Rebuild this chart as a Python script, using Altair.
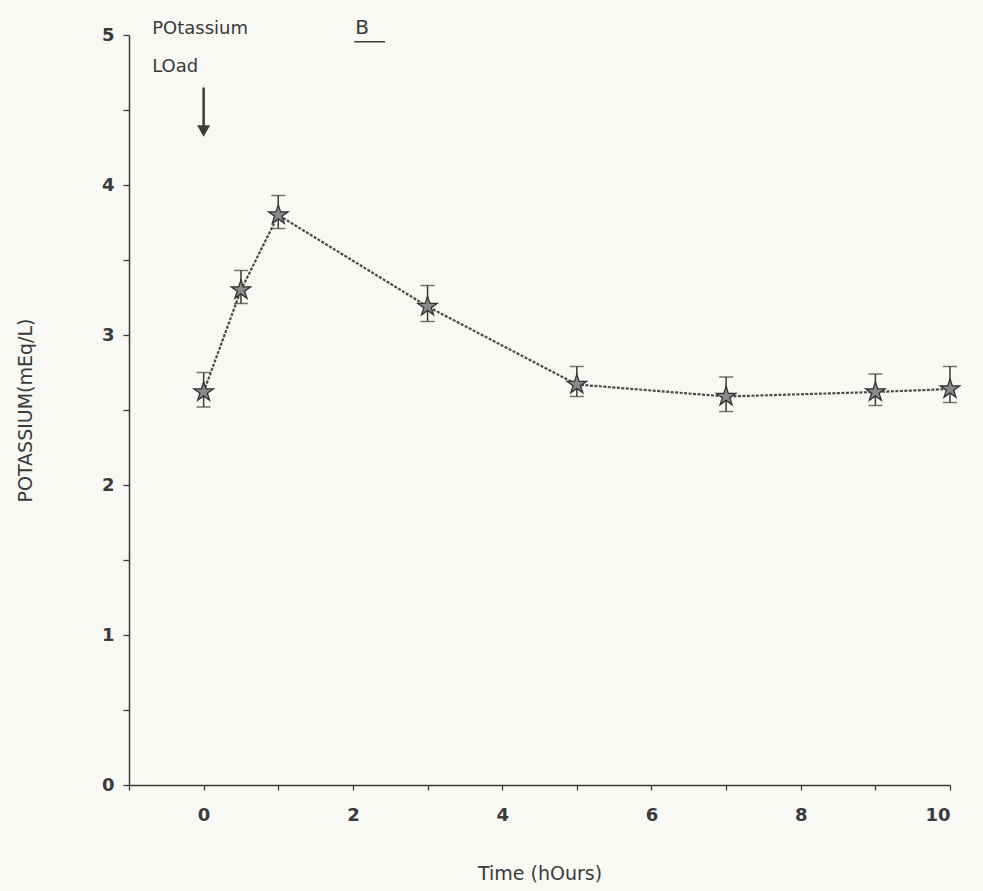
import altair as alt
import pandas as pd

# ---- data ----
time_h = [0, 0.5, 1, 3, 5, 7, 9, 10]
potassium = [2.62, 3.30, 3.80, 3.19, 2.67, 2.59, 2.62, 2.64]
err_hi = [2.75, 3.43, 3.93, 3.33, 2.79, 2.72, 2.74, 2.79]
err_lo = [2.52, 3.21, 3.71, 3.09, 2.59, 2.49, 2.53, 2.55]

x_ticks = list(range(-1, 11))
y_ticks = [i / 2 for i in range(0, 11)]

df = pd.DataFrame({"t": time_h, "k": potassium, "hi": err_hi, "lo": err_lo})

INK = "#3a3a3a"
FONT = "DejaVu Sans"
STAR = ("M0,-1L0.223,-0.307L0.951,-0.309L0.361,0.117L0.588,0.809L0,0.38"
        "L-0.588,0.809L-0.361,0.117L-0.951,-0.309L-0.223,-0.307Z")

xs = alt.Scale(domain=[-1, 10], nice=False, zero=False)
ys = alt.Scale(domain=[0, 5], nice=False)

base = alt.Chart(df)

x_enc = alt.X("t:Q", scale=xs, axis=alt.Axis(
    values=x_ticks, title="Time (hOurs)",
    labelExpr="(datum.value >= 0 && datum.value % 2 == 0) ? format(datum.value, 'd') : ''",
    grid=False, tickSize=5, labelPadding=16, titlePadding=40,
))
y_enc = alt.Y("k:Q", scale=ys, axis=alt.Axis(
    values=y_ticks, title="POTASSIUM(mEq/L)",
    labelExpr="datum.value % 1 == 0 ? format(datum.value, 'd') : ''",
    grid=False, tickSize=6, labelPadding=9, titlePadding=66,
))

line = base.mark_line(color="#4a4a4a", strokeWidth=2.2, strokeDash=[3, 1.5]).encode(x=x_enc, y=y_enc)
bars = base.mark_rule(color=INK, strokeWidth=1.5).encode(x="t:Q", y="lo:Q", y2="hi:Q")
cap_hi = base.mark_tick(orient="horizontal", size=14, thickness=1.5, color=INK).encode(x="t:Q", y="hi:Q")
cap_lo = base.mark_tick(orient="horizontal", size=14, thickness=1.5, color=INK).encode(x="t:Q", y="lo:Q")
stars = base.mark_point(shape=STAR, size=420, filled=True, fill="#8a8a8a",
                        stroke="#333333", strokeWidth=1.3, opacity=1).encode(x="t:Q", y="k:Q")

# ---- annotations ----
ann_small = pd.DataFrame({"x": [-0.69, -0.69], "y": [5.01, 4.755], "label": ["POtassium", "LOad"]})
texts = alt.Chart(ann_small).mark_text(align="left", baseline="alphabetic", font=FONT,
                                       fontSize=18, color=INK).encode(
    x="x:Q", y="y:Q", text="label:N")
ann_b = pd.DataFrame({"x": [2.03], "y": [5.01], "label": ["B"]})
text_b = alt.Chart(ann_b).mark_text(align="left", baseline="alphabetic", font=FONT,
                                    fontSize=20, color=INK).encode(
    x="x:Q", y="y:Q", text="label:N")

underline = alt.Chart(pd.DataFrame({"x": [2.02], "x2": [2.43], "y": [4.955]})).mark_rule(
    color=INK, strokeWidth=1.5).encode(x="x:Q", x2="x2:Q", y="y:Q")

arrow_shaft = alt.Chart(pd.DataFrame({"x": [0], "y": [4.65], "y2": [4.37]})).mark_rule(
    color=INK, strokeWidth=2.5).encode(x="x:Q", y="y:Q", y2="y2:Q")
arrow_head = alt.Chart(pd.DataFrame({"x": [0], "y": [4.36]})).mark_point(
    shape="triangle-down", size=170, filled=True, color=INK, opacity=1).encode(x="x:Q", y="y:Q")

chart = alt.layer(line, bars, cap_hi, cap_lo, stars, texts, text_b, underline, arrow_shaft, arrow_head).properties(
    width=821, height=750,
    padding={"left": 129, "top": 35, "right": 33, "bottom": 106},
    autosize=alt.AutoSizeParams(type="none"),
    background="#f8f8f4",
).configure_view(stroke=None).configure_axis(
    domainColor=INK, domainWidth=1.5, tickColor=INK, tickWidth=1.3,
    labelFont=FONT, labelFontSize=18, labelColor=INK, labelFontWeight="bold",
    titleFont=FONT, titleFontSize=19, titleColor=INK, titleFontWeight="normal",
)

chart.save("out.html", embed_options={"renderer": "svg", "actions": False})
